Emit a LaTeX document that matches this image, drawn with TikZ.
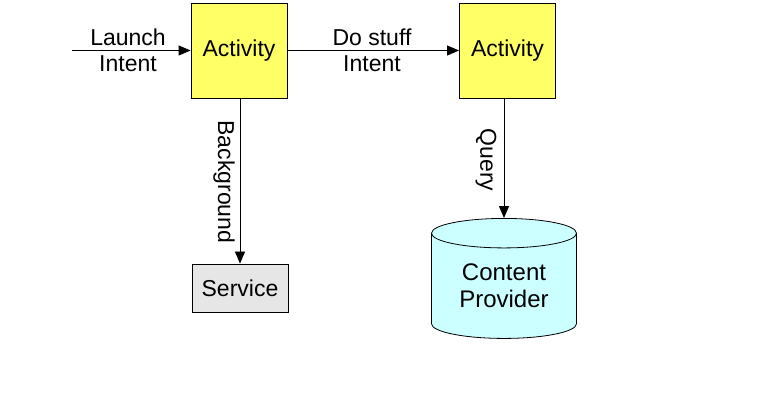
\documentclass[tikz,border=0pt]{standalone}
\usepackage{fontspec}
\setmainfont{Liberation Sans}
\usetikzlibrary{arrows.meta,shapes.geometric}
\definecolor{ActYellow}{HTML}{FFFF66}
\definecolor{SrvGray}{HTML}{E6E6E6}
\definecolor{ProvCyan}{HTML}{CCFFFF}

\tikzset{
  actbox/.style={draw, fill=ActYellow, minimum width=48pt, minimum height=47.5pt, inner sep=0pt},
  srvbox/.style={draw, fill=SrvGray, minimum width=48pt, minimum height=24pt, inner sep=0pt},
  provider/.style={draw, fill=ProvCyan, cylinder, shape border rotate=90, aspect=0.33,
    minimum width=72.5pt, minimum height=60pt, inner sep=0pt, align=center,
    font=\fontsize{12}{13.5}\selectfont},
  flow/.style={-{Triangle[length=6pt,width=5pt]}},
  lbl/.style={align=center, inner sep=0pt}
}

\begin{document}
\begin{tikzpicture}[x=0.5pt, y=-0.5pt, font=\fontsize{11.5}{13}\selectfont]
        \useasboundingbox (0,0) rectangle (757,405);

        % activities
        \node[actbox] (act1) at (239,50.5) {Activity};
        \node[actbox] (act2) at (507.5,50.5) {Activity};

        % service and content provider
        \node[srvbox] (srv) at (240,288) {Service};
        \node[provider] (prov) at (504,286) {Content\\Provider};

        \coordinate (start) at (72,50.5);

        \draw[flow] (start) -- (act1);
        \node[lbl] (launch) at (128,50.5) {Launch\\Intent};

        \draw[flow] (act1) -- (act2);
        \node[lbl] (dostuff) at (372,50.5) {Do stuff\\Intent};

        \draw[flow] (act1.south -| srv.north) -- (srv.north);
        \node[lbl, rotate=-90] (bg) at (224,182) {Background};

        \draw[flow] (act2.south -| prov.top) -- (prov.top);
        \node[lbl, rotate=-90] (query) at (486,160) {Query};
\end{tikzpicture}
\end{document}
